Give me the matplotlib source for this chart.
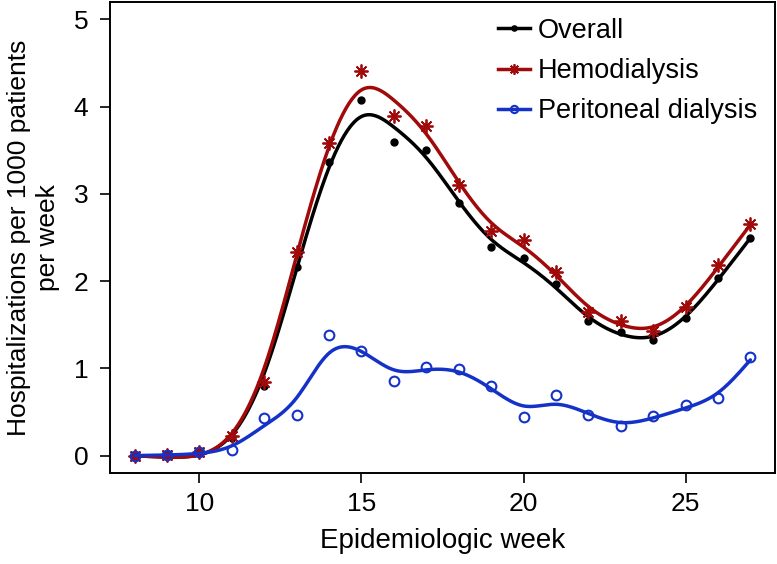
import numpy as np
import matplotlib
matplotlib.use("Agg")
import matplotlib.pyplot as plt

plt.rcParams['font.family'] = ['Liberation Sans', 'DejaVu Sans']

weeks = [8, 9, 10, 11, 12, 13, 14, 15, 16, 17, 18, 19, 20, 21, 22, 23, 24, 25, 26, 27]
overall = [0.0, 0.01, 0.04, 0.20, 0.80, 2.16, 3.36, 4.08, 3.59, 3.50, 2.89, 2.39,
           2.27, 1.97, 1.54, 1.42, 1.33, 1.58, 2.04, 2.50]
hemo = [0.0, 0.01, 0.04, 0.22, 0.84, 2.33, 3.58, 4.41, 3.89, 3.78, 3.10, 2.57,
        2.47, 2.11, 1.65, 1.54, 1.43, 1.70, 2.19, 2.65]
pd_ = [0.0, 0.01, 0.04, 0.065, 0.43, 0.46, 1.38, 1.20, 0.86, 1.02, 0.99, 0.80,
       0.44, 0.70, 0.47, 0.335, 0.45, 0.58, 0.655, 1.13]
labels = ["Overall", "Hemodialysis", "Peritoneal dialysis"]


def smooth_spline(x, y, lam, xs):
    x = np.asarray(x, float); y = np.asarray(y, float)
    n = len(x); h = np.diff(x)
    Q = np.zeros((n, n - 2)); R = np.zeros((n - 2, n - 2))
    for j in range(1, n - 1):
        Q[j - 1, j - 1] = 1 / h[j - 1]
        Q[j, j - 1] = -1 / h[j - 1] - 1 / h[j]
        Q[j + 1, j - 1] = 1 / h[j]
        R[j - 1, j - 1] = (h[j - 1] + h[j]) / 3
        if j < n - 2:
            R[j - 1, j] = R[j, j - 1] = h[j] / 6
    K = Q @ np.linalg.solve(R, Q.T)
    g = np.linalg.solve(np.eye(n) + lam * K, y)
    gam = np.zeros(n)
    gam[1:-1] = np.linalg.solve(R, Q.T @ g)
    out = np.empty_like(xs)
    idx = np.clip(np.searchsorted(x, xs) - 1, 0, n - 2)
    for k, (xv, i) in enumerate(zip(xs, idx)):
        hi = h[i]; a = xv - x[i]; b = x[i + 1] - xv
        out[k] = (a * g[i + 1] + b * g[i]) / hi - a * b / 6 * (
            (1 + a / hi) * gam[i + 1] + (1 + b / hi) * gam[i])
    return out


W, H = 777, 564
fig = plt.figure(figsize=(W / 100, H / 100), dpi=100)
ax = fig.add_axes([110 / W, (H - 473) / H, 665 / W, 471 / H])

xs = np.linspace(weeks[0], weeks[-1], 400)
red = '#A00A0A'
blue = '#1432C8'
series = [
    (overall, 'black', dict(marker='o', markersize=5, markerfacecolor='black', markeredgecolor='black'), 0.18),
    (hemo, red, dict(marker=(8, 2, 0), markersize=10, markeredgewidth=1.3, markeredgecolor=red), 0.18),
    (pd_, blue, dict(marker='o', markersize=7, markerfacecolor='none', markeredgewidth=1.5, markeredgecolor=blue), 0.11),
]
handles = []
for (vals, col, mk, lam), lab in zip(series, labels):
    ax.plot(weeks, vals, linestyle='none', **mk)
    ax.plot(xs, smooth_spline(weeks, vals, lam, xs), color=col, lw=2.5, solid_capstyle='round')
    hmk = dict(mk)
    hmk['markersize'] = mk['markersize'] * 0.75
    h, = ax.plot([], [], color=col, lw=2.5, **hmk)
    handles.append(h)

ax.set_xlim(7.24, 27.76)
ax.set_ylim(-0.2, 5.2)
ax.set_xticks([10, 15, 20, 25])
ax.set_yticks([0, 1, 2, 3, 4, 5])
ax.tick_params(labelsize=19, length=7.5, width=1.2, direction='out')
ax.tick_params(axis='x', pad=6.5)
ax.tick_params(axis='y', pad=8)
for s in ax.spines.values():
    s.set_linewidth(1.4)
ax.set_xlabel("Epidemiologic week", fontsize=20, labelpad=8)
ax.set_ylabel("Hospitalizations per 1000 patients\nper week", fontsize=19,
              labelpad=10, linespacing=1.28)

LFS = 19.5
target_centers = [30.7, 71.1, 111.4]  # text centres, px from top
spacing = 0.55
anchor_top = 19.0
for _ in range(3):
    leg = ax.legend(handles, labels, loc='upper left', frameon=False, fontsize=LFS,
                    handlelength=1.18, handletextpad=0.3, labelspacing=spacing,
                    borderpad=0, borderaxespad=0,
                    bbox_to_anchor=(498 / W, (H - anchor_top) / H),
                    bbox_transform=fig.transFigure)
    fig.canvas.draw()
    r = fig.canvas.get_renderer()
    cs = []
    for t in leg.get_texts():
        bb = t.get_window_extent(r)
        cs.append(H - (bb.y0 + bb.y1) / 2)
    pitch = (cs[2] - cs[0]) / 2
    tpitch = (target_centers[2] - target_centers[0]) / 2
    spacing += (tpitch - pitch) / (LFS * 100 / 72)
    anchor_top += target_centers[0] - cs[0]

fig.savefig("out.png", dpi=100)
